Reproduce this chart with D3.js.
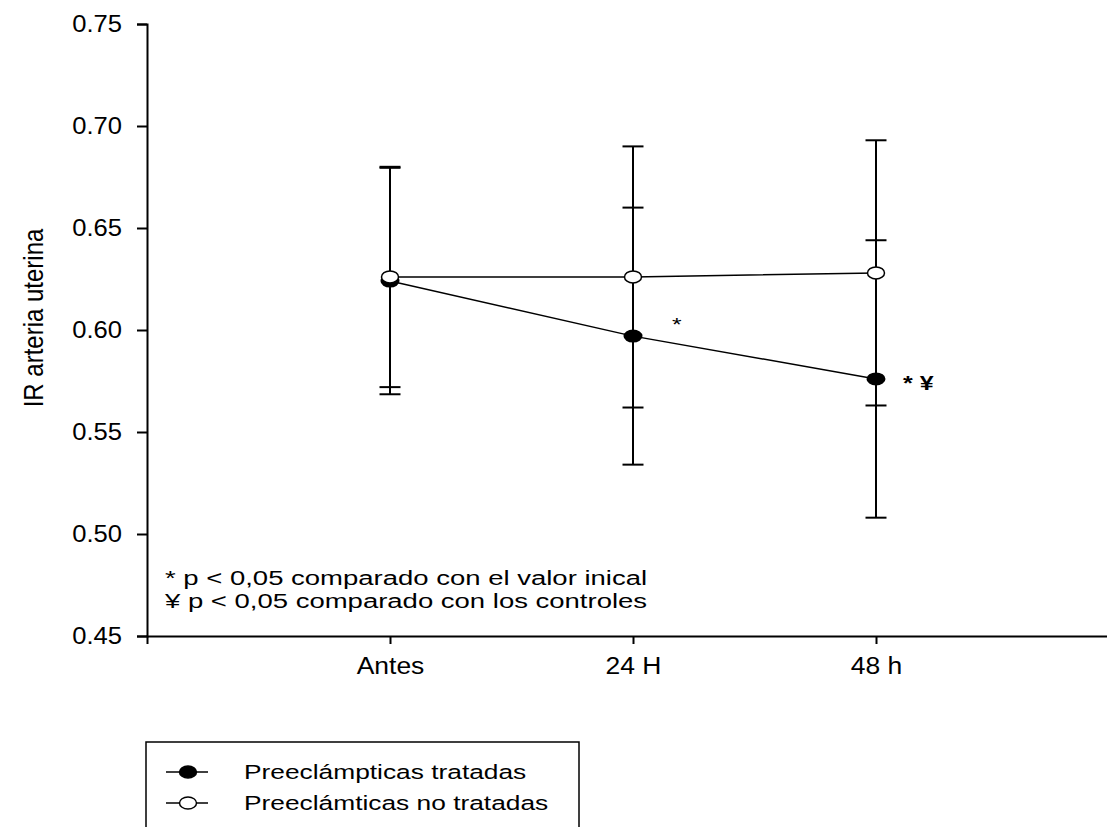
<!DOCTYPE html>
<html>
<head>
<meta charset="utf-8">
<script src="https://cdn.jsdelivr.net/npm/d3@7"></script>
<style>
  body { margin: 0; background: #fff; }
  text { font-family: "Liberation Sans", Arial, sans-serif; fill: #000; }
</style>
</head>
<body>
<svg id="chart" width="1107" height="827"></svg>
<script>
// datos
const categories = ['Antes', '24 H', '48 h'];
const tratadas = [0.624, 0.597, 0.576];
const tratadasErr = [0.0555, 0.0630, 0.0680];
const noTratadas = [0.626, 0.626, 0.628];
const noTratadasErr = [0.054, 0.064, 0.065];
const yTicks = [0.45, 0.50, 0.55, 0.60, 0.65, 0.70, 0.75];
const notas = ['* p < 0,05 comparado con el valor inical', '\u00a5 p < 0,05 comparado con los controles'];
const marcas = ['', '*', '* \u00a5'];
const series = ['Preeclámpticas tratadas', 'Preeclámticas no tratadas'];

const svg = d3.select('#chart');

const x = d3.scaleLinear().domain([0, 4]).range([147, 1119]);
const y = d3.scaleLinear().domain([0.45, 0.75]).range([636, 24]);

// ejes
const yAxis = svg.append('g')
  .attr('transform', 'translate(147,0)')
  .call(d3.axisLeft(y).tickValues(yTicks).tickFormat(d3.format('.2f')).tickSize(10));
const xAxis = svg.append('g')
  .attr('transform', 'translate(0,636)')
  .call(d3.axisBottom(x).tickValues([1, 2, 3]).tickFormat((d) => categories[d - 1]).tickSize(8).tickPadding(13));

[yAxis, xAxis].forEach((a) => {
  a.select('.domain').attr('stroke', '#000').attr('stroke-width', 2);
  a.selectAll('.tick line').attr('stroke', '#000').attr('stroke-width', 2);
});
yAxis.selectAll('.tick text').attr('font-size', 23.5)
  .attr('transform', 'scale(1.09,1)')
  .attr('x', -25 / 1.09);
xAxis.selectAll('.tick text').attr('font-size', 24.5)
  .attr('transform', 'scale(1.08,1)');

// titulo eje y
svg.append('text')
  .attr('transform', 'translate(43,318) rotate(-90) scale(1,1.15)')
  .attr('text-anchor', 'middle')
  .attr('font-size', 24)
  .text('IR arteria uterina');

// barras de error
function errorBars(vals, errs) {
  const g = svg.append('g');
  vals.forEach((v, i) => {
    const cx = x(i + 1);
    g.append('line').attr('x1', cx).attr('x2', cx)
      .attr('y1', y(v - errs[i])).attr('y2', y(v + errs[i]))
      .attr('stroke', '#000').attr('stroke-width', 2);
    [v - errs[i], v + errs[i]].forEach((e) => {
      g.append('line').attr('x1', cx - 10.5).attr('x2', cx + 10.5)
        .attr('y1', y(e)).attr('y2', y(e))
        .attr('stroke', '#000').attr('stroke-width', 2);
    });
  });
}
errorBars(tratadas, tratadasErr);
errorBars(noTratadas, noTratadasErr);

// lineas
const line = d3.line().x((d, i) => x(i + 1)).y((d) => y(d));
svg.append('path').datum(tratadas).attr('d', line)
  .attr('fill', 'none').attr('stroke', '#000').attr('stroke-width', 1.5);
svg.append('path').datum(noTratadas).attr('d', line)
  .attr('fill', 'none').attr('stroke', '#000').attr('stroke-width', 1.5);

// puntos
svg.selectAll('.pt-t').data(tratadas).enter().append('ellipse')
  .attr('cx', (d, i) => x(i + 1)).attr('cy', (d) => y(d))
  .attr('rx', 9.5).attr('ry', 6.5).attr('fill', '#000');
svg.selectAll('.pt-n').data(noTratadas).enter().append('ellipse')
  .attr('cx', (d, i) => x(i + 1)).attr('cy', (d) => y(d))
  .attr('rx', 8.5).attr('ry', 6).attr('fill', '#fff')
  .attr('stroke', '#000').attr('stroke-width', 1.5);

// asteriscos de significancia
svg.append('text').attr('transform', 'translate(' + (x(2) + 39) + ',' + (y(tratadas[1]) - 5) + ') scale(1.3,1)')
  .attr('font-size', 19).text(marcas[1]);
svg.append('text').attr('transform', 'translate(' + (x(3) + 27) + ',' + (y(tratadas[2]) + 11) + ') scale(1.25,1)')
  .attr('font-size', 20).attr('font-weight', 'bold').text(marcas[2]);

// notas
notas.forEach((n, i) => {
  svg.append('text')
    .attr('transform', 'translate(165,' + (585 + i * 23) + ') scale(1.41,1)')
    .attr('font-size', 19.5)
    .text(n);
});

// leyenda
svg.append('rect').attr('x', 146).attr('y', 742).attr('width', 433).attr('height', 120)
  .attr('fill', 'none').attr('stroke', '#000').attr('stroke-width', 1.5);
series.forEach((s, i) => {
  const base = 779 + i * 31;
  const ly = base - 7;
  svg.append('line').attr('x1', 166).attr('x2', 208).attr('y1', ly).attr('y2', ly)
    .attr('stroke', '#000').attr('stroke-width', 1.5);
  svg.append('ellipse').attr('cx', 188).attr('cy', ly)
    .attr('rx', 8.5).attr('ry', 6)
    .attr('fill', i === 0 ? '#000' : '#fff')
    .attr('stroke', '#000').attr('stroke-width', 1.5);
  svg.append('text')
    .attr('transform', 'translate(244,' + base + ') scale(1.35,1)')
    .attr('font-size', 19.5)
    .text(s);
});
</script>
</body>
</html>
